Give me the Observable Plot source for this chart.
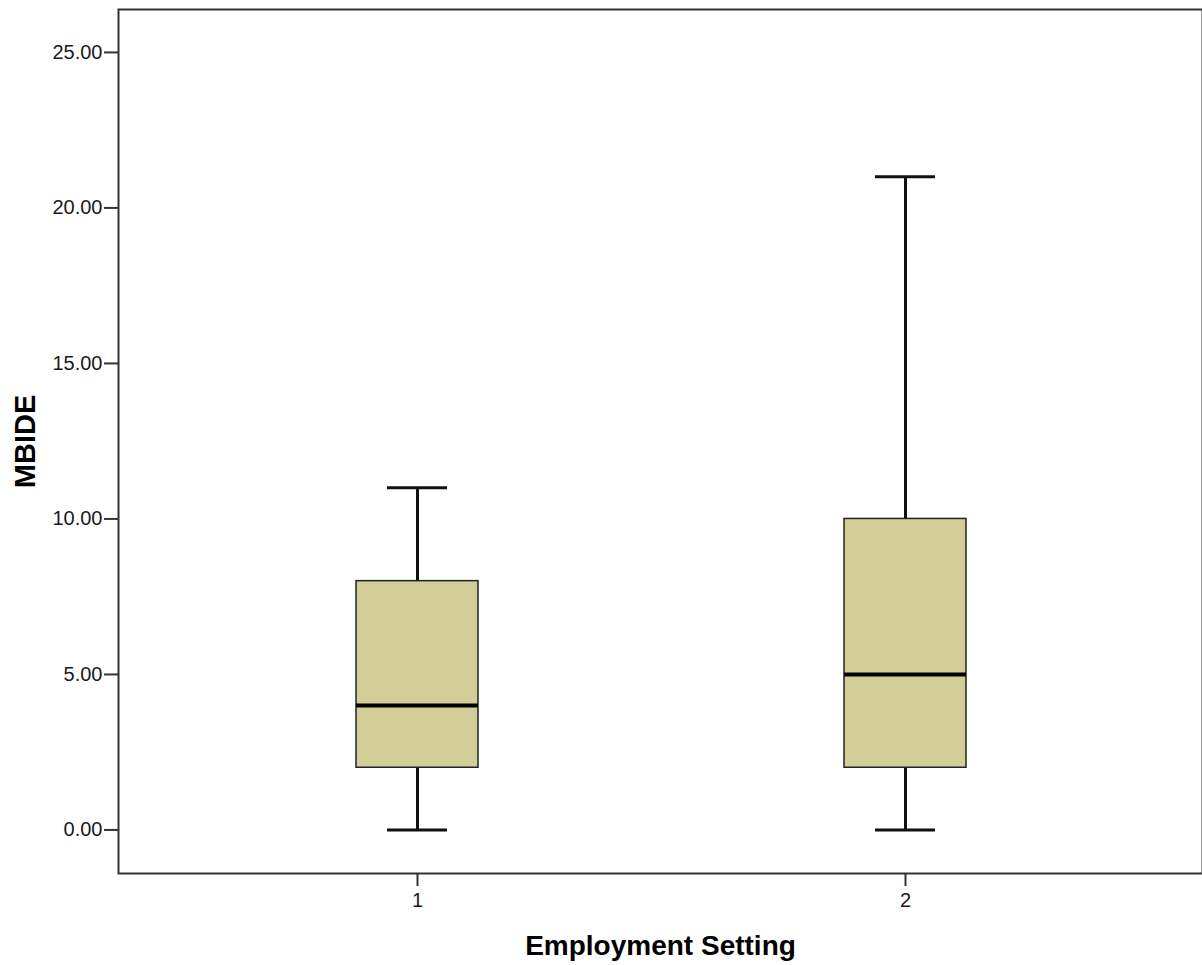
<!DOCTYPE html>
<html>
<head>
<meta charset="utf-8">
<script src="https://cdn.jsdelivr.net/npm/d3@7"></script>
<script src="https://cdn.jsdelivr.net/npm/@observablehq/plot@0.6"></script>
<style>
  html, body { margin: 0; padding: 0; background: #ffffff; }
</style>
</head>
<body>
<div id="chart"></div>
<script>
const categories = ["1", "2"];
const lowWhisker = [0, 0];
const q1 = [2, 2];
const median = [4, 5];
const q3 = [8, 10];
const highWhisker = [11, 21];
const yTicks = [0, 5, 10, 15, 20, 25];
const xTitle = "Employment Setting";
const yTitle = "MBIDE";

const data = categories.map((c, i) => ({
  cat: c, lo: lowWhisker[i], q1: q1[i], med: median[i], q3: q3[i], hi: highWhisker[i]
}));

const chart = Plot.plot({
  width: 1202,
  height: 965,
  marginLeft: 118,
  marginRight: 0,
  marginTop: 9,
  marginBottom: 92,
  style: { fontFamily: "'Liberation Sans', Arial, sans-serif", background: "#ffffff", color: "#222" },
  x: { type: "band", domain: categories, range: [118, 1205], paddingInner: 0.749, paddingOuter: 0.4877 },
  y: { domain: [-1.40, 26.38] },
  marks: [
    Plot.frame({ stroke: "#333", strokeWidth: 2 }),
    Plot.axisY({ ticks: yTicks, tickFormat: d3.format(".2f"), tickSize: 14, tickPadding: 2, fontSize: 20, strokeWidth: 2, stroke: "#333", fill: "#1a1a1a", label: null }),
    Plot.axisX({ tickSize: 13, tickPadding: 6, fontSize: 20, strokeWidth: 2, stroke: "#333", fill: "#1a1a1a", label: null }),
    Plot.ruleX(data, { x: "cat", y1: "lo", y2: "q1", stroke: "#111", strokeWidth: 3 }),
    Plot.ruleX(data, { x: "cat", y1: "q3", y2: "hi", stroke: "#111", strokeWidth: 3 }),
    Plot.tickY(data, { x: "cat", y: "lo", insetLeft: 31, insetRight: 31, stroke: "#111", strokeWidth: 3 }),
    Plot.tickY(data, { x: "cat", y: "hi", insetLeft: 31, insetRight: 31, stroke: "#111", strokeWidth: 3 }),
    Plot.barY(data, { x: "cat", y1: "q1", y2: "q3", fill: "#d3ce97", stroke: "#222", strokeWidth: 1.5 }),
    Plot.tickY(data, { x: "cat", y: "med", stroke: "#000", strokeWidth: 4 }),
    Plot.text([yTitle], { frameAnchor: "left", textAnchor: "middle", lineAnchor: "middle", rotate: -90, dx: -93, fontSize: 29, fontWeight: "bold", fill: "#000" }),
    Plot.text([xTitle], { frameAnchor: "bottom", textAnchor: "middle", lineAnchor: "middle", dy: 73, fontSize: 28, fontWeight: "bold", fill: "#000" })
  ]
});
document.getElementById("chart").appendChild(chart);
</script>
</body>
</html>
